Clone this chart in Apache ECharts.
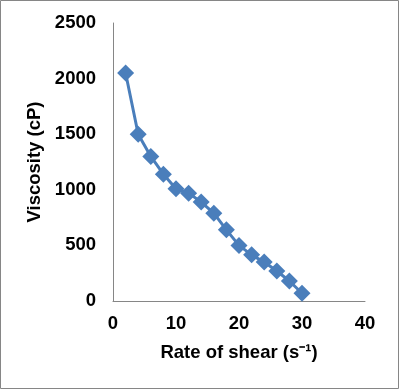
<!DOCTYPE html>
<html><head><meta charset="utf-8">
<script src="https://cdn.jsdelivr.net/npm/echarts@6/dist/echarts.min.js"></script>
<style>html,body{margin:0;padding:0;background:#fff}#c{width:399px;height:389px}</style>
</head><body><div id="c"></div>
<script>
const shearRate = [2, 4, 6, 8, 10, 12, 14, 16, 18, 20, 22, 24, 26, 28, 30];
const viscosity = [2050, 1500, 1300, 1140, 1010, 970, 890, 790, 640, 500, 415, 350, 270, 180, 70];
const xTicks = [0, 40, 10];
const yTicks = [0, 2500, 500];
const chart = echarts.init(document.getElementById('c'));
const font = {fontFamily: 'Liberation Sans, Arial, sans-serif', fontWeight: 'bold', fontSize: 18.5, color: '#000'};
chart.setOption({
  animation: false,
  graphic: [{type: 'rect', shape: {x: 0.5, y: 0.5, width: 398, height: 388}, style: {fill: null, stroke: '#868686', lineWidth: 1}}],
  grid: {left: 113, right: 34, top: 23, bottom: 88},
  xAxis: {
    type: 'value', min: xTicks[0], max: xTicks[1], interval: xTicks[2],
    name: 'Rate of shear (s\u207B\u00B9)', nameLocation: 'middle', nameGap: 42,
    nameTextStyle: font,
    axisLine: {lineStyle: {color: '#868686', width: 1}},
    axisTick: {show: false}, splitLine: {show: false},
    axisLabel: Object.assign({margin: 13, formatter: v => String(v)}, font)
  },
  yAxis: {
    type: 'value', min: yTicks[0], max: yTicks[1], interval: yTicks[2],
    name: 'Viscosity (cP)', nameLocation: 'middle', nameGap: 61,
    nameTextStyle: font,
    axisLine: {show: true, lineStyle: {color: '#868686', width: 1}},
    axisTick: {show: false}, splitLine: {show: false},
    axisLabel: Object.assign({margin: 17, formatter: v => String(v)}, font)
  },
  series: [{
    type: 'line',
    data: shearRate.map((x, i) => [x, viscosity[i]]),
    symbol: 'diamond', symbolSize: 17,
    lineStyle: {color: '#4A7EBB', width: 3},
    itemStyle: {color: '#4A7EBB'}
  }]
});
</script></body></html>
